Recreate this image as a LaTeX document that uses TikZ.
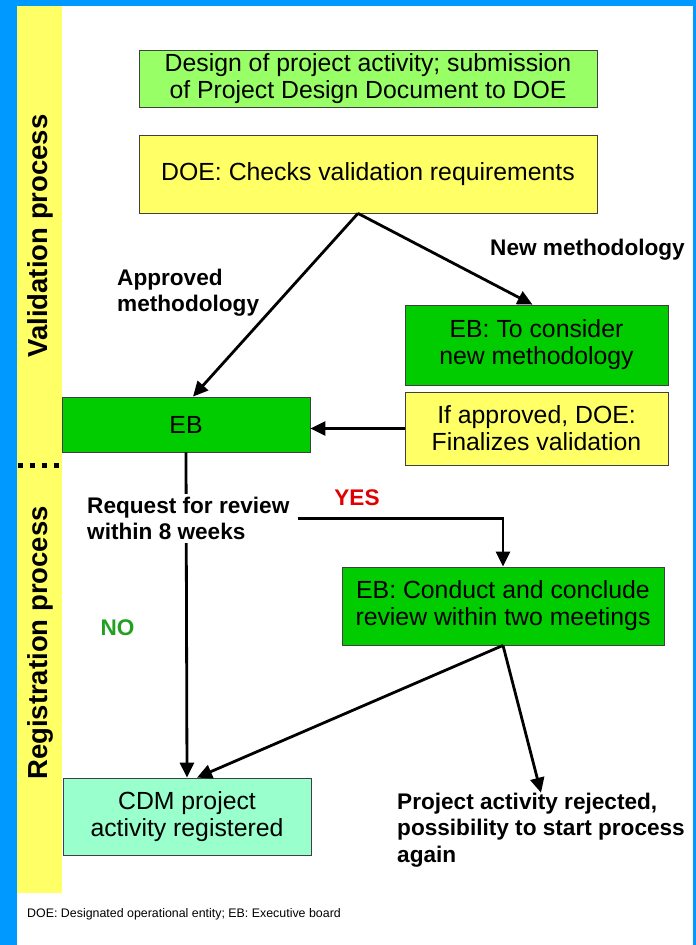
\documentclass[tikz,border=0pt]{standalone}
\usepackage{fontspec}
\setmainfont{Liberation Sans}
\usetikzlibrary{arrows.meta}

\definecolor{frameblue}{HTML}{0099FF}
\definecolor{stripyellow}{HTML}{FFFF66}
\definecolor{lightgreen}{HTML}{99FF66}
\definecolor{boxgreen}{HTML}{00CC00}
\definecolor{mintbox}{HTML}{99FFCC}
\definecolor{yesred}{HTML}{E00000}
\definecolor{nogreen}{HTML}{22A022}

\begin{document}
\begin{tikzpicture}[x=1pt, y=-1pt,
  box/.style={draw=black!75, line width=0.8pt, align=center, inner sep=0pt,
    font=\fontsize{24.8}{27}\selectfont},
  lbl/.style={align=left, inner sep=0pt, font=\fontsize{22.6}{26.5}\selectfont\bfseries},
  side/.style={rotate=90, inner sep=0pt, font=\fontsize{27.5}{30}\selectfont\bfseries},
  flow/.style={-{Triangle[length=15pt, width=14pt]}, line width=2.8pt}]

  \useasboundingbox (0,0) rectangle (696,945);
  \fill[frameblue] (0,0) rectangle (696,945);
  \fill[white] (17,6) rectangle (693,945);
  \fill[stripyellow] (17,6) rectangle (62,893);
  \draw[line width=5pt, dash pattern=on 5pt off 7pt] (18,465) -- (62,465);

  \node[side] (valid) at (40,236) {Validation process};
  \node[side] (regist) at (40,643) {Registration process};

  %% boxes
  \node[box, fill=lightgreen, minimum width=458pt, minimum height=57pt] (design) at (368,78.5)
    {Design of project activity; submission\\of Project Design Document to DOE};
  \node[box, fill=stripyellow, minimum width=458pt, minimum height=78pt] (checks) at (368,174)
    {DOE: Checks validation requirements};
  \node[box, fill=boxgreen, minimum width=263pt, minimum height=80pt] (cons) at (536.5,345)
    {EB: To consider\\new methodology};
  \node[box, fill=stripyellow, minimum width=263pt, minimum height=73pt] (appr) at (536.5,428.5)
    {If approved, DOE:\\Finalizes validation};
  \node[box, fill=boxgreen, minimum width=248pt, minimum height=55pt] (eb) at (186,424.5) {EB};
  \node[box, fill=boxgreen, minimum width=322pt, minimum height=78pt] (conc) at (503,606)
    {EB: Conduct and conclude\\review within two meetings};
  \node[box, fill=mintbox, minimum width=248pt, minimum height=77pt] (cdm) at (187,816.5)
    {CDM project\\activity registered};

  \draw[flow] (eb.south) -- (cdm.north); %% NO branch, under the label

  %% labels
  \node[lbl, anchor=west] (newm) at (490,250) {New methodology};
  \node[lbl, anchor=west] (apprm) at (117,292.5) {Approved\\methodology};
  \node[lbl, anchor=west, fill=white, inner sep=3pt] (request) at (84,518.5)
    {Request for review\\within 8 weeks};
  \node[lbl, text=yesred] (yes) at (357,498) {YES};
  \node[lbl, text=nogreen] (no) at (117.5,628) {NO};
  \node[lbl, anchor=west] (reject) at (397,830)
    {Project activity rejected,\\possibility to start process\\again};
  \node[anchor=west, inner sep=0pt, font=\fontsize{12.4}{14}\selectfont] (note) at (27,914)
    {DOE: Designated operational entity; EB: Executive board};

  %% connectors
  \coordinate (split) at ([xshift=-10pt]checks.south);
  \draw[flow] (split) -- ([xshift=7pt]eb.north);
  \draw[flow] (split) -- ([xshift=-4pt]cons.north);
  \draw[flow] (appr.west) -- (appr.west -| eb.east);
  \draw[flow] ([xshift=5pt]request.east) -| (conc.north); %% YES branch
  \draw[flow] (conc.south) -- ([xshift=10pt]cdm.north);
  \draw[flow] (conc.south) -- (reject.north);
\end{tikzpicture}
\end{document}
